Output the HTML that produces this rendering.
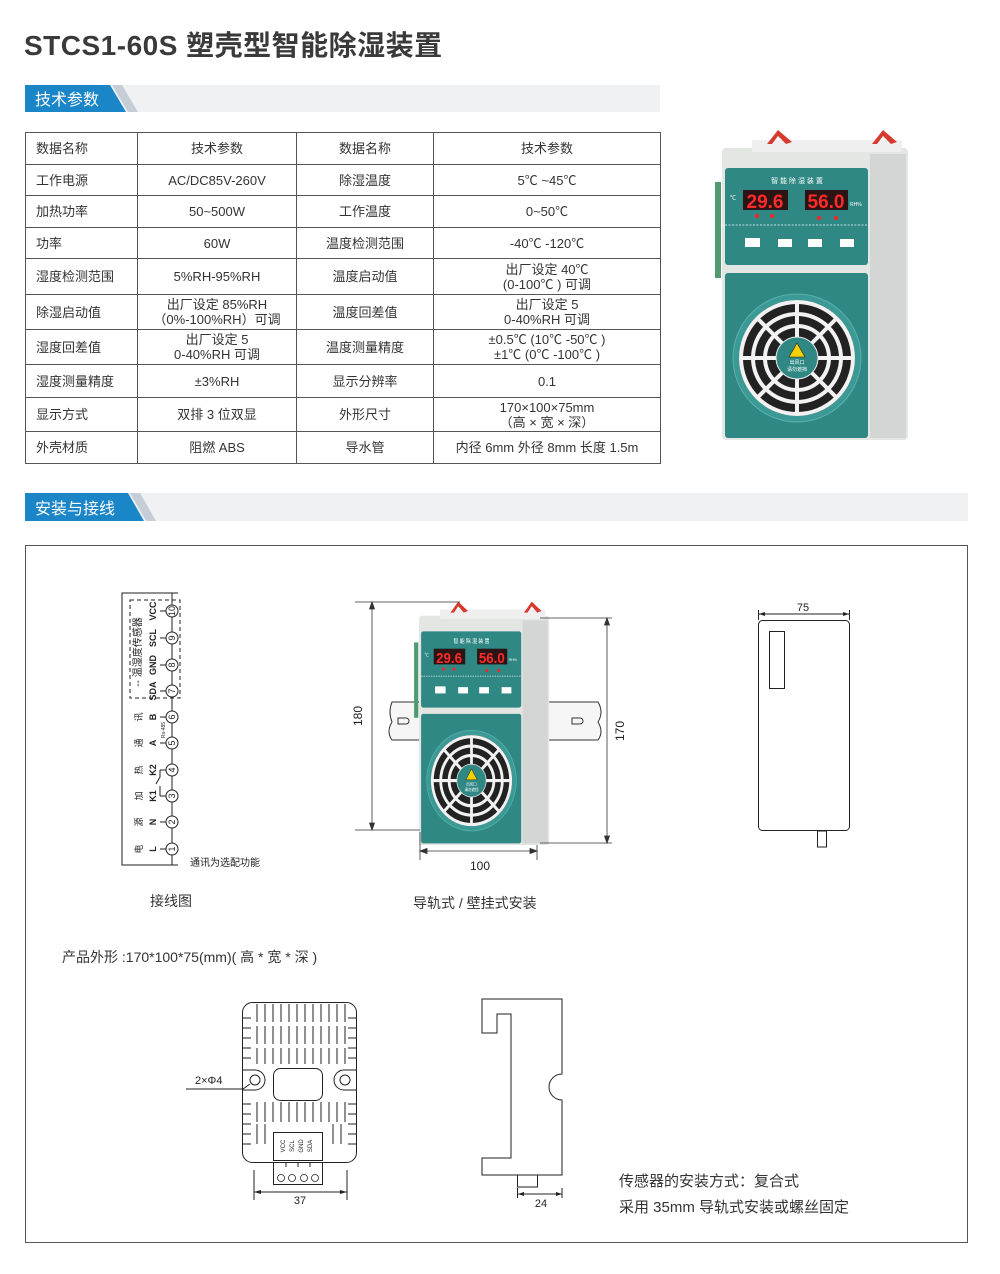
<!DOCTYPE html>
<html><head><meta charset="utf-8">
<style>
*{margin:0;padding:0;box-sizing:border-box}
body{width:1000px;height:1274px;background:#fff;position:relative;overflow:hidden;font-family:"Liberation Sans","Noto Sans CJK SC",sans-serif;color:#333}
.title{position:absolute;left:24px;top:24px;font-size:28px;font-weight:bold;color:#3a3a3a;letter-spacing:0.5px}
table{position:absolute;left:25px;top:132px;border-collapse:collapse;font-size:13px;color:#333}
td{border:1px solid #555;text-align:center;line-height:15px;padding:0}
td.l{text-align:left;padding-left:10px}
svg{position:absolute;left:0;top:0}
</style></head><body>
<div class="title">STCS1-60S 塑壳型智能除湿装置</div>

<table>
<colgroup><col style="width:112px"><col style="width:159px"><col style="width:137px"><col style="width:227px"></colgroup>
<tr style="height:32px"><td class="l">数据名称</td><td>技术参数</td><td>数据名称</td><td>技术参数</td></tr>
<tr style="height:31px"><td class="l">工作电源</td><td>AC/DC85V-260V</td><td>除湿温度</td><td>5℃ ~45℃</td></tr>
<tr style="height:32px"><td class="l">加热功率</td><td>50~500W</td><td>工作温度</td><td>0~50℃</td></tr>
<tr style="height:31px"><td class="l">功率</td><td>60W</td><td>温度检测范围</td><td>-40℃ -120℃</td></tr>
<tr style="height:36px"><td class="l">湿度检测范围</td><td>5%RH-95%RH</td><td>温度启动值</td><td>出厂设定 40℃<br>(0-100℃ ) 可调</td></tr>
<tr style="height:35px"><td class="l">除湿启动值</td><td>出厂设定 85%RH<br>（0%-100%RH）可调</td><td>温度回差值</td><td>出厂设定 5<br>0-40%RH 可调</td></tr>
<tr style="height:35px"><td class="l">湿度回差值</td><td>出厂设定 5<br>0-40%RH 可调</td><td>温度测量精度</td><td>±0.5℃ (10℃ -50℃ )<br>±1℃ (0℃ -100℃ )</td></tr>
<tr style="height:33px"><td class="l">湿度测量精度</td><td>±3%RH</td><td>显示分辨率</td><td>0.1</td></tr>
<tr style="height:34px"><td class="l">显示方式</td><td>双排 3 位双显</td><td>外形尺寸</td><td>170×100×75mm<br>（高 × 宽 × 深）</td></tr>
<tr style="height:32px"><td class="l">外壳材质</td><td>阻燃 ABS</td><td>导水管</td><td>内径 6mm 外径 8mm 长度 1.5m</td></tr>
</table>

<svg width="1000" height="1274" viewBox="0 0 1000 1274" font-family="Liberation Sans, Noto Sans CJK SC, sans-serif">
<defs>
<symbol id="dev" viewBox="0 0 200 312" preserveAspectRatio="none">
  <rect x="3" y="54" width="6" height="96" fill="#4f9a6e"/>
  <rect x="10" y="20" width="186" height="292" rx="4" fill="#e4e6e4"/>
  <rect x="158" y="26" width="36" height="284" fill="#d3d6d4"/>
  <rect x="40" y="12" width="150" height="12" rx="2" fill="#efefef"/>
  <polygon points="55,16 66,2 80,14 74,16 66,8 60,16" fill="#d93a2e"/>
  <polygon points="160,16 171,2 185,14 179,16 171,8 165,16" fill="#d93a2e"/>
  <rect x="13" y="40" width="143" height="97" rx="3" fill="#2f8884"/>
  <text x="85" y="55" font-size="7" fill="#fff" text-anchor="middle">智 能 除 湿 装 置</text>
  <text x="18" y="72" font-size="6" fill="#fff">℃</text>
  <rect x="31" y="62" width="45" height="20" fill="#2b1414"/>
  <text x="53" y="80" font-size="19" fill="#ff2a2a" text-anchor="middle" font-weight="bold">29.6</text>
  <rect x="93" y="62" width="43" height="20" fill="#2b1414"/>
  <text x="114" y="80" font-size="19" fill="#ff2a2a" text-anchor="middle" font-weight="bold">56.0</text>
  <text x="138" y="78" font-size="5" fill="#fff">RH%</text>
  <circle cx="45" cy="88" r="2" fill="#f22"/><circle cx="60" cy="88" r="2" fill="#f22"/>
  <circle cx="107" cy="90" r="2" fill="#f22"/><circle cx="124" cy="90" r="2" fill="#f22"/>
  <line x1="13" y1="97" x2="156" y2="97" stroke="#cde" stroke-dasharray="2,1.5" stroke-width="1"/>
  <rect x="33" y="110" width="15" height="9" fill="#fff"/><rect x="66" y="111" width="14" height="8" fill="#fff"/>
  <rect x="96" y="111" width="14" height="8" fill="#fff"/><rect x="128" y="111" width="14" height="8" fill="#fff"/>
  <rect x="13" y="145" width="143" height="165" rx="3" fill="#2f8884"/>
  <circle cx="85" cy="230" r="64" fill="#3b9a95" stroke="#5ab0aa" stroke-width="1"/>
  <circle cx="85" cy="230" r="58" fill="#222"/>
  <g fill="none" stroke="#f2f2f2" stroke-width="4">
    <circle cx="85" cy="230" r="56"/><circle cx="85" cy="230" r="44"/><circle cx="85" cy="230" r="32"/>
    <line x1="85" y1="174" x2="85" y2="210"/><line x1="85" y1="250" x2="85" y2="286"/>
    <line x1="29" y1="230" x2="65" y2="230"/><line x1="105" y1="230" x2="141" y2="230"/>
    <line x1="45" y1="190" x2="70" y2="215"/><line x1="100" y1="245" x2="125" y2="270"/>
    <line x1="125" y1="190" x2="100" y2="215"/><line x1="45" y1="270" x2="70" y2="245"/>
  </g>
  <circle cx="85" cy="230" r="21" fill="#2f8884" stroke="#eee" stroke-width="1"/>
  <polygon points="85,215 77,229 93,229" fill="#f5d000" stroke="#222" stroke-width="0.6"/>
  <text x="85" y="236" font-size="5" fill="#fff" text-anchor="middle">出风口</text>
  <text x="85" y="243" font-size="5" fill="#fff" text-anchor="middle">请勿遮挡</text>
</symbol>
</defs>

<!-- section bars -->
<rect x="25" y="85" width="635" height="27" fill="#f0f1f3"/>
<polygon points="112,85 122,85 138,112 128,112" fill="#c5ced6"/>
<polygon points="25,85 110,85 126,112 25,112" fill="#1a86c8"/>
<text x="35" y="105" font-size="16" fill="#fff">技术参数</text>
<rect x="25" y="493" width="943" height="28" fill="#f0f1f3"/>
<polygon points="130,493 140,493 156,521 146,521" fill="#c5ced6"/>
<polygon points="25,493 128,493 144,521 25,521" fill="#1a86c8"/>
<text x="35" y="514" font-size="16" fill="#fff">安装与接线</text>

<use href="#dev" x="712" y="128" width="200" height="312"/>

<!-- main box -->
<rect x="25.5" y="545.5" width="942" height="697" fill="none" stroke="#555" stroke-width="1"/>

<!-- wiring diagram -->
<g stroke="#222" fill="none" stroke-width="1">
  <polyline points="178,593 122,593 122,865 178,865"/>
  <line x1="172" y1="593" x2="172" y2="865"/>
  <rect x="130" y="600" width="50" height="98" stroke-dasharray="4,3"/>
  <polyline points="160,770 160,777 156,784"/><polyline points="160,796 160,786"/>
</g>
<g font-size="9" fill="#222" text-anchor="middle">
  <g fill="#fff" stroke="#222">
    <circle cx="172" cy="849" r="6"/><circle cx="172" cy="822" r="6"/><circle cx="172" cy="796" r="6"/>
    <circle cx="172" cy="770" r="6"/><circle cx="172" cy="743" r="6"/><circle cx="172" cy="717" r="6"/>
    <circle cx="172" cy="691" r="6"/><circle cx="172" cy="665" r="6"/><circle cx="172" cy="638" r="6"/>
    <circle cx="172" cy="611" r="6"/>
  </g>
  <text transform="translate(175,849) rotate(-90)" font-size="9">1</text>
  <text transform="translate(175,822) rotate(-90)">2</text>
  <text transform="translate(175,796) rotate(-90)">3</text>
  <text transform="translate(175,770) rotate(-90)">4</text>
  <text transform="translate(175,743) rotate(-90)">5</text>
  <text transform="translate(175,717) rotate(-90)">6</text>
  <text transform="translate(175,691) rotate(-90)">7</text>
  <text transform="translate(175,665) rotate(-90)">8</text>
  <text transform="translate(175,638) rotate(-90)">9</text>
  <text transform="translate(175,611) rotate(-90)">10</text>
  <g font-weight="bold">
  <text transform="translate(156,849) rotate(-90)">L</text>
  <text transform="translate(156,822) rotate(-90)">N</text>
  <text transform="translate(156,796) rotate(-90)">K1</text>
  <text transform="translate(156,770) rotate(-90)">K2</text>
  <text transform="translate(156,743) rotate(-90)">A</text>
  <text transform="translate(156,717) rotate(-90)">B</text>
  <text transform="translate(156,691) rotate(-90)">SDA</text>
  <text transform="translate(156,665) rotate(-90)">GND</text>
  <text transform="translate(156,638) rotate(-90)">SCL</text>
  <text transform="translate(156,611) rotate(-90)">VCC</text>
  </g>
  <text transform="translate(142,849) rotate(-90)">电</text>
  <text transform="translate(142,822) rotate(-90)">源</text>
  <text transform="translate(142,796) rotate(-90)">加</text>
  <text transform="translate(142,770) rotate(-90)">热</text>
  <text transform="translate(142,743) rotate(-90)">通</text>
  <text transform="translate(142,717) rotate(-90)">讯</text>
  <text transform="translate(141,652) rotate(-90)" font-size="10">-- 温湿度传感器</text>
  <text transform="translate(165,730) rotate(-90)" font-size="5">Rs-485</text>
</g>
<g stroke="#222" stroke-width="1">
  <line x1="160" y1="849" x2="166" y2="849"/><line x1="160" y1="822" x2="166" y2="822"/>
  <line x1="160" y1="796" x2="166" y2="796"/><line x1="160" y1="770" x2="166" y2="770"/>
  <line x1="160" y1="743" x2="166" y2="743"/><line x1="160" y1="717" x2="166" y2="717"/>
  <line x1="160" y1="691" x2="166" y2="691"/><line x1="160" y1="665" x2="166" y2="665"/>
  <line x1="160" y1="638" x2="166" y2="638"/><line x1="160" y1="611" x2="166" y2="611"/>
</g>
<text x="190" y="866" font-size="10" fill="#222">通讯为选配功能</text>
<text x="150" y="906" font-size="14" fill="#333">接线图</text>
<text x="413" y="908" font-size="14" fill="#333">导轨式 / 壁挂式安装</text>
<text x="62" y="962" font-size="14" fill="#333">产品外形 :170*100*75(mm)( 高 * 宽 * 深 )</text>

<!-- DIN rail -->
<g stroke="#333" fill="#f6f6f6" stroke-width="1">
  <path d="M392,702 L420,702 L420,740 L392,740 Q386,732 392,722 Q388,712 392,702 Z"/>
  <path d="M540,702 L598,702 Q604,712 598,722 Q604,732 598,740 L540,740 Z"/>
  <path d="M398,718 h8 a3,3 0 0 1 0,6 h-8 Z" fill="none"/>
  <path d="M572,718 h8 a3,3 0 0 1 0,6 h-8 Z" fill="none"/>
</g>
<use href="#dev" x="412" y="600" width="140" height="245"/>

<!-- dims for mounting view -->
<g stroke="#333" stroke-width="0.8" fill="#333">
  <line x1="355" y1="602" x2="460" y2="602"/><line x1="355" y1="830" x2="420" y2="830"/>
  <line x1="372" y1="602" x2="372" y2="830"/>
  <polygon points="372,602 369.5,609 374.5,609"/><polygon points="372,830 369.5,823 374.5,823"/>
  <line x1="540" y1="618" x2="612" y2="618"/><line x1="540" y1="843" x2="612" y2="843"/>
  <line x1="607" y1="618" x2="607" y2="843"/>
  <polygon points="607,618 604.5,625 609.5,625"/><polygon points="607,843 604.5,836 609.5,836"/>
  <line x1="420" y1="832" x2="420" y2="860"/><line x1="537" y1="845" x2="537" y2="860"/>
  <line x1="420" y1="851" x2="537" y2="851"/>
  <polygon points="420,851 427,848.5 427,853.5"/><polygon points="537,851 530,848.5 530,853.5"/>
</g>
<text transform="translate(362,716) rotate(-90)" font-size="12" text-anchor="middle" fill="#222">180</text>
<text transform="translate(624,731) rotate(-90)" font-size="12" text-anchor="middle" fill="#222">170</text>
<text x="480" y="870" font-size="12" text-anchor="middle" fill="#222">100</text>

<!-- side view -->
<g stroke="#222" stroke-width="1" fill="none">
  <rect x="758.5" y="620.5" width="91" height="210" rx="4"/>
  <rect x="769.5" y="631.5" width="15" height="57"/>
  <rect x="817.5" y="831" width="9" height="16"/>
  <line x1="758.5" y1="610" x2="758.5" y2="620"/><line x1="849.5" y1="610" x2="849.5" y2="620"/>
  <line x1="758.5" y1="614" x2="849.5" y2="614"/>
</g>
<polygon points="759,614 765,612 765,616" fill="#222"/><polygon points="849,614 843,612 843,616" fill="#222"/>
<text x="803" y="611" font-size="11" text-anchor="middle" fill="#222">75</text>

<!-- sensor -->
<g stroke="#222" stroke-width="1" fill="none">
  <rect x="242.5" y="1002.5" width="114" height="160" rx="10"/>
  <path d="M243,1070 h12 a10,10 0 0 1 0,20 h-12"/>
  <path d="M356,1070 h-12 a10,10 0 0 0 0,20 h12"/>
  <circle cx="255" cy="1080" r="5"/><circle cx="345" cy="1080" r="5"/>
  <rect x="273.5" y="1068.5" width="49" height="32" rx="7"/>
  <rect x="273.5" y="1132.5" width="49" height="28"/>
  <rect x="273.5" y="1162.5" width="49" height="22"/>
  <path d="M186,1089 H243 L250,1084"/>
  <line x1="254" y1="1170" x2="254" y2="1200"/><line x1="347" y1="1170" x2="347" y2="1200"/>
  <line x1="254" y1="1192" x2="347" y2="1192"/>
</g>
<g stroke="#222" stroke-width="1">
  <!-- top fins vertical -->
  <path d="M257,1004v18M265,1004v18M273,1004v18M281,1004v18M289,1004v18M297,1004v18M305,1004v18M313,1004v18M321,1004v18M329,1004v18M337,1004v18M345,1004v18
           M257,1026v18M265,1026v18M273,1026v18M281,1026v18M289,1026v18M297,1026v18M305,1026v18M313,1026v18M321,1026v18M329,1026v18M337,1026v18M345,1026v18
           M257,1048v16M265,1048v16M273,1048v16M281,1048v16M289,1048v16M297,1048v16M305,1048v16M313,1048v16M321,1048v16M329,1048v16M337,1048v16M345,1048v16
           M257,1102v20M265,1102v20M273,1102v20M281,1102v20M289,1102v20M297,1102v20M305,1102v20M313,1102v20M321,1102v20M329,1102v20M337,1102v20M345,1102v20
           M257,1124v20M265,1124v20M333,1124v20M341,1124v20
           M243,1018h8M243,1028h8M243,1038h8M243,1048h8M243,1058h8M243,1104h8M243,1114h8M243,1124h8M243,1134h8M243,1144h8
           M348,1018h8M348,1028h8M348,1038h8M348,1048h8M348,1058h8M348,1104h8M348,1114h8M348,1124h8M348,1134h8M348,1144h8
           M286,1162v5M298,1162v5M310,1162v5"/>
</g>
<g fill="#fff" stroke="#222" stroke-width="0.8">
  <circle cx="281" cy="1178" r="3.5"/><circle cx="292" cy="1178" r="3.5"/><circle cx="304" cy="1178" r="3.5"/><circle cx="315" cy="1178" r="3.5"/>
</g>
<g font-size="6" fill="#222" text-anchor="middle">
  <text transform="translate(285,1146) rotate(-90)">VCC</text>
  <text transform="translate(294,1146) rotate(-90)">SCL</text>
  <text transform="translate(303,1146) rotate(-90)">GND</text>
  <text transform="translate(312,1146) rotate(-90)">SDA</text>
</g>
<polygon points="254,1192 261,1190 261,1194" fill="#222"/><polygon points="347,1192 340,1190 340,1194" fill="#222"/>
<text x="300" y="1204" font-size="11" text-anchor="middle" fill="#222">37</text>
<text x="195" y="1084" font-size="11" fill="#222">2×Φ4</text>

<!-- bracket -->
<g stroke="#222" stroke-width="1" fill="none">
  <path d="M482,999 H562 V1074 A13,13 0 0 0 562,1100 V1175 H482 V1158 H511 V1014 H497 V1033 H482 Z"/>
  <rect x="517.5" y="1175" width="20" height="12"/>
  <line x1="517.5" y1="1188" x2="517.5" y2="1198"/><line x1="562" y1="1188" x2="562" y2="1198"/>
  <line x1="517.5" y1="1194" x2="562" y2="1194"/>
</g>
<polygon points="518,1194 524,1192 524,1196" fill="#222"/><polygon points="562,1194 556,1192 556,1196" fill="#222"/>
<text x="541" y="1207" font-size="11" text-anchor="middle" fill="#222">24</text>

<text x="619" y="1186" font-size="15" fill="#333">传感器的安装方式：复合式</text>
<text x="619" y="1212" font-size="15" fill="#333">采用 35mm 导轨式安装或螺丝固定</text>
</svg>
</body></html>
